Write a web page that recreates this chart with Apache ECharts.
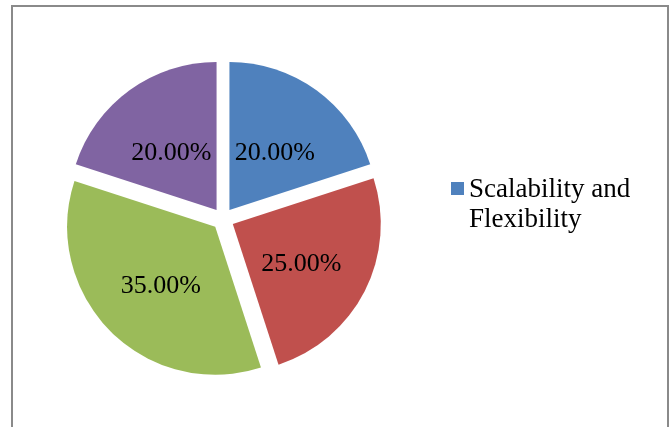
<!DOCTYPE html>
<html>
<head>
<meta charset="utf-8">
<script src="https://cdn.jsdelivr.net/npm/echarts@6/dist/echarts.min.js"></script>
<style>
  html, body { margin: 0; padding: 0; background: #fff; }
  #chart { width: 670px; height: 427px; }
</style>
</head>
<body>
<div id="chart"></div>
<script>
  const categories = ['Scalability and Flexibility', 'Slice 2', 'Slice 3', 'Slice 4'];
  const shares = [20, 25, 35, 20];
  const sliceColors = ['#4F81BD', '#C0504D', '#9BBB59', '#8064A2'];

  const chart = echarts.init(document.getElementById('chart'), null, { renderer: 'canvas' });

  const pieData = categories.map((name, i) => ({
    name: name,
    value: shares[i],
    selected: true,
    itemStyle: { color: sliceColors[i] }
  }));

  // square marker sitting at the top of a 13x60 box, so it lines up with the first text line
  const legendIcon = 'path://M0,0L0.01,0Z M0,7H13V20H0Z M0,60L0.01,60Z';

  chart.setOption({
    animation: false,
    graphic: [{
      type: 'rect',
      shape: { x: 12, y: 6, width: 656, height: 440 },
      style: { fill: null, stroke: '#8a8a8a', lineWidth: 2 },
      silent: true
    }],
    legend: {
      data: [{ name: categories[0], icon: legendIcon }],
      left: 451,
      top: 175,
      padding: 0,
      orient: 'vertical',
      itemWidth: 13,
      itemHeight: 60,
      itemGap: 5,
      selectedMode: false,
      formatter: () => 'Scalability and\nFlexibility',
      textStyle: {
        fontFamily: 'Liberation Serif, Times New Roman, serif',
        fontSize: 27,
        lineHeight: 30,
        color: '#000'
      }
    },
    series: [{
      type: 'pie',
      center: [223, 219],
      radius: 148,
      startAngle: 90,
      clockwise: true,
      selectedMode: 'multiple',
      selectedOffset: 11,
      avoidLabelOverlap: false,
      emphasis: { disabled: true },
      label: {
        show: true,
        position: 'inside',
        formatter: p => p.value.toFixed(2) + '%',
        fontFamily: 'Liberation Serif, Times New Roman, serif',
        fontSize: 26,
        color: '#000'
      },
      labelLayout: { dy: 5 },
      labelLine: { show: false },
      data: pieData
    }]
  });
</script>
</body>
</html>
